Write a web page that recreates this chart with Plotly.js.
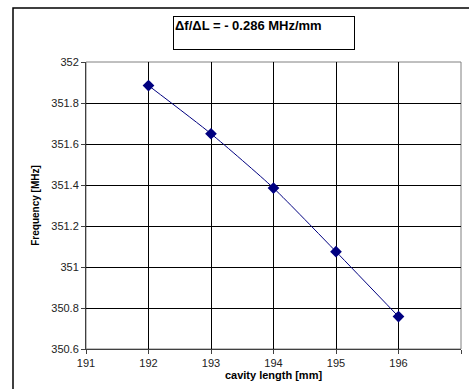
<!DOCTYPE html>
<html>
<head>
<meta charset="utf-8">
<script src="https://cdn.plot.ly/plotly-3.0.1.min.js"></script>
<style>html,body{margin:0;padding:0;background:#fff;}#chart{width:469px;height:389px;}</style>
</head>
<body>
<div id="chart"></div>
<script>
const cavityLength = [192, 193, 194, 195, 196];
const frequency = [351.885, 351.65, 351.385, 351.075, 350.758];
const xTicks = [191, 192, 193, 194, 195, 196, 197];
const yTicks = [350.6, 350.8, 351, 351.2, 351.4, 351.6, 351.8, 352];
const titleText = '<b>Δf/ΔL = - 0.286 MHz/mm</b>';

const W = 469, H = 389;
const L = 86, R = 8, T = 62, B = 40;
const pw = W - L - R, ph = H - T - B;
const px = v => (v - L) / pw;
const py = v => (H - B - v) / ph;

const trace = {
  x: cavityLength, y: frequency, type: 'scatter', mode: 'lines+markers',
  line: {color: '#000080', width: 1, shape: 'spline', smoothing: 0.6},
  marker: {symbol: 'diamond', size: 9, color: '#000080'},
  hoverinfo: 'skip', cliponaxis: false
};

const layout = {
  width: W, height: H,
  margin: {l: L, r: R, t: T, b: B, pad: 0},
  paper_bgcolor: '#fff', plot_bgcolor: '#fff',
  showlegend: false,
  font: {family: 'Arial, Liberation Sans, sans-serif', color: '#000', size: 11},
  xaxis: {
    range: [191, 197], tickvals: xTicks, ticktext: xTicks.map(String),
    showgrid: true, gridcolor: '#000', gridwidth: 1,
    zeroline: false, showline: true, linecolor: '#404040', linewidth: 1,
    ticks: 'outside', ticklen: 4, tickcolor: '#404040',
    tickfont: {size: 11, color: '#222'},
    title: {text: '<b>cavity length [mm]</b>', font: {size: 11, color: '#000'}, standoff: 3},
    automargin: false, fixedrange: true
  },
  yaxis: {
    range: [350.6, 352], tickvals: yTicks, ticktext: yTicks.map(v => String(v)),
    showgrid: true, gridcolor: '#000', gridwidth: 1,
    zeroline: false, showline: true, linecolor: '#404040', linewidth: 1,
    ticks: 'outside', ticklen: 4, tickcolor: '#404040',
    tickfont: {size: 11, color: '#222'},
    title: {text: '<b>Frequency [MHz]</b>', font: {size: 10, color: '#000'}, standoff: 9},
    automargin: false, fixedrange: true
  },
  shapes: [
    {type: 'rect', xref: 'paper', yref: 'paper', x0: 0, x1: 1, y0: 0, y1: 1,
     line: {color: '#808080', width: 1}, layer: 'below'},
    {type: 'path', xref: 'paper', yref: 'paper',
     path: `M ${px(13)} ${py(400)} L ${px(13)} ${py(8)} L ${px(480)} ${py(8)}`,
     line: {color: '#000', width: 1.5}}
  ],
  annotations: [
    {xref: 'paper', yref: 'paper', x: px(173), y: py(16), xanchor: 'left', yanchor: 'top',
     text: titleText, showarrow: false, align: 'left', valign: 'top',
     width: 178, height: 30, bordercolor: '#000', borderwidth: 1, borderpad: 1,
     bgcolor: '#fff', font: {size: 13, color: '#000', family: 'Arial, Liberation Sans, sans-serif'}}
  ]
};

Plotly.newPlot('chart', [trace], layout, {displayModeBar: false, staticPlot: true});
</script>
</body>
</html>
